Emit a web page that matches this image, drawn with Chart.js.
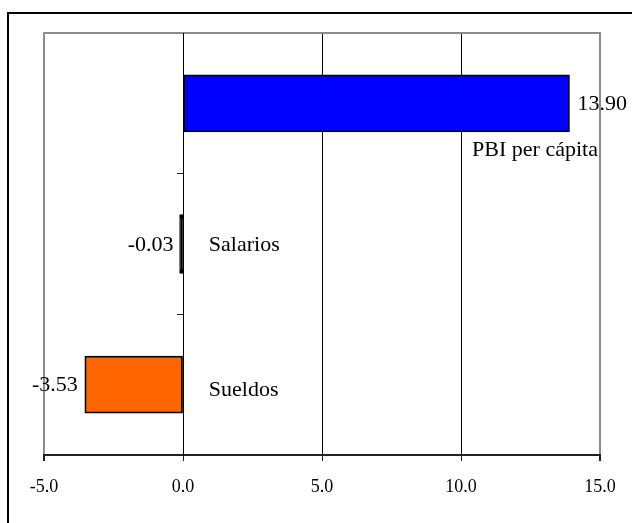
<!DOCTYPE html>
<html>
<head>
<meta charset="utf-8">
<script src="https://cdn.jsdelivr.net/npm/chart.js@4/dist/chart.umd.min.js"></script>
<style>
  html, body { margin: 0; padding: 0; background: #fff; overflow: hidden; }
  #wrap { position: relative; width: 632px; height: 523px; overflow: hidden; }
  #frame { position: absolute; left: 7px; top: 12px; width: 700px; height: 600px;
           border: 2px solid #000; box-sizing: border-box; }
  #c { position: absolute; left: 0; top: 0; }
</style>
</head>
<body>
<div id="wrap">
  <div id="frame"></div>
  <canvas id="c" width="632" height="523"></canvas>
</div>
<script>
// Variación (%) por concepto
const categories = ['PBI per cápita', 'Salarios', 'Sueldos'];
const values = [13.90, -0.03, -3.53];
const barColors = ['#0000FF', '#000000', '#FF6600'];
const xTicks = [-5, 0, 5, 10, 15];

// where each category name sits: anchor value on the x axis, vertical shift in px
const namePlacement = [
  { at: 10.4, dy: 46 },
  { at: 0.93, dy: 0 },
  { at: 0.93, dy: 5 }
];

const FONT = '"Liberation Serif", "Times New Roman", serif';

const barLabels = {
  id: 'barLabels',
  afterDraw(chart) {
    const ctx = chart.ctx;
    const meta = chart.getDatasetMeta(0);
    const xs = chart.scales.x;
    const zero = xs.getPixelForValue(0);
    ctx.save();
    ctx.fillStyle = '#000';
    ctx.textBaseline = 'middle';
    ctx.font = '22px ' + FONT;
    meta.data.forEach((bar, i) => {
      const v = values[i];
      const txt = v.toFixed(2);
      if (v >= 0) {
        ctx.textAlign = 'left';
        ctx.fillText(txt, Math.max(bar.x, zero) + 8, bar.y + 1);
      } else {
        ctx.textAlign = 'right';
        ctx.fillText(txt, Math.min(bar.x, zero - 2) - 7, bar.y + 1);
      }
      const p = namePlacement[i];
      ctx.textAlign = 'left';
      ctx.fillText(categories[i], xs.getPixelForValue(p.at), bar.y + p.dy + 1);
    });
    ctx.restore();
  }
};

new Chart(document.getElementById('c'), {
  type: 'bar',
  data: {
    labels: categories,
    datasets: [{
      data: values,
      backgroundColor: barColors,
      borderColor: '#000',
      borderWidth: 1.8,
      borderSkipped: false,
      minBarLength: 2.5,
      inflateAmount: [0.4, 1.2, 0.4],
      barPercentage: 0.405,
      categoryPercentage: 1
    }]
  },
  options: {
    indexAxis: 'y',
    responsive: false,
    animation: false,
    devicePixelRatio: 1,
    layout: { padding: { left: 44, top: 33, right: 32, bottom: 0 } },
    plugins: { legend: { display: false }, tooltip: { enabled: false } },
    scales: {
      x: {
        type: 'linear',
        position: 'bottom',
        min: -5,
        max: 15,
        afterBuildTicks(scale) { scale.ticks = xTicks.map(v => ({ value: v })); },
        afterFit(scale) { scale.height = 68; },
        ticks: {
          color: '#000',
          padding: 15,
          font: { family: FONT, size: 18 },
          callback: v => Number(v).toFixed(1)
        },
        grid: {
          color: ctx => (ctx.tick && (ctx.tick.value === -5 || ctx.tick.value === 15)) ? '#8c8c8c' : '#000',
          lineWidth: ctx => (ctx.tick && (ctx.tick.value === -5 || ctx.tick.value === 15)) ? 2 : 1,
          tickColor: '#222',
          tickLength: 6
        },
        border: { display: true, color: '#222', width: 2 }
      },
      xTop: {
        type: 'linear',
        position: 'top',
        min: -5,
        max: 15,
        afterFit(scale) { scale.height = 0; },
        ticks: { display: false },
        grid: { display: false, drawTicks: false },
        border: { display: true, color: '#8c8c8c', width: 2 }
      },
      y: {
        type: 'category',
        position: { x: 0 },
        ticks: { display: false },
        grid: {
          offset: true,
          drawOnChartArea: false,
          drawTicks: true,
          tickLength: 6,
          tickColor: '#222'
        },
        border: { display: true, color: '#000', width: 1 }
      }
    }
  },
  plugins: [barLabels]
});
</script>
</body>
</html>
